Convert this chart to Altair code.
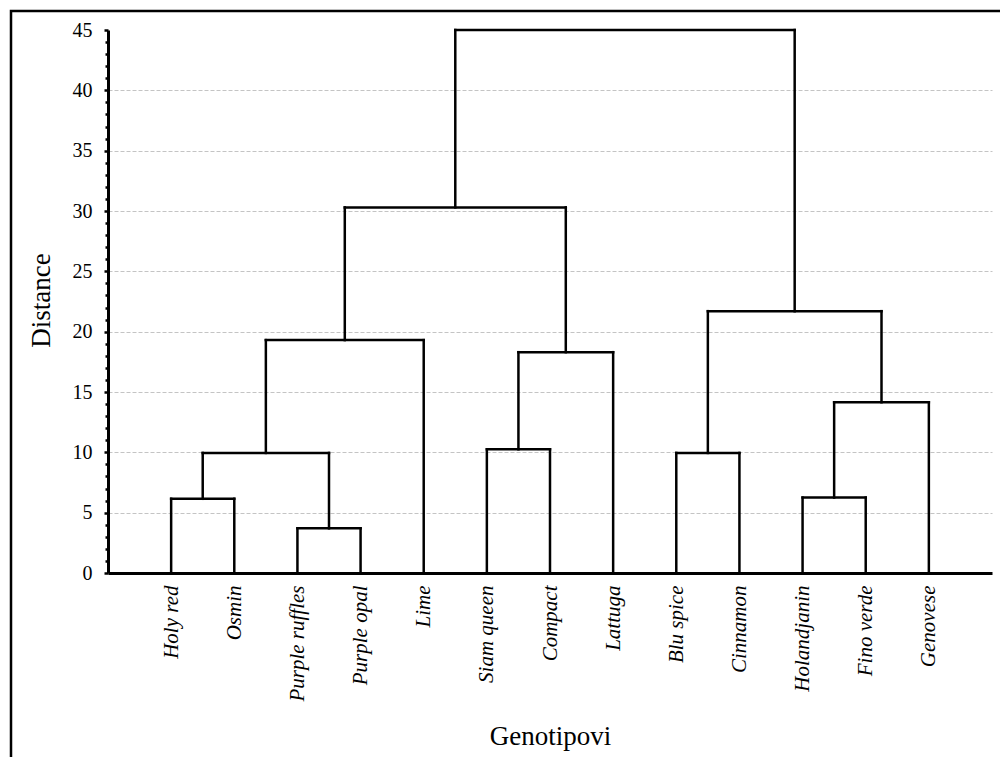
import altair as alt
import pandas as pd

# Leaves in dendrogram order
leaves = ["Holy red", "Osmin", "Purple ruffles", "Purple opal", "Lime",
          "Siam queen", "Compact", "Lattuga", "Blu spice", "Cinnamon",
          "Holandjanin", "Fino verde", "Genovese"]

# Linkage: node ids 0..12 are leaves, merges create nodes 13, 14, ...
merge_a = [2, 0, 10, 8, 14, 5, 15, 18, 17, 16, 21, 23]
merge_b = [3, 1, 11, 9, 13, 6, 12, 7, 4, 19, 20, 22]
merge_h = [3.7, 6.15, 6.25, 9.95, 9.95, 10.25, 14.15, 18.3, 19.3, 21.7, 30.3, 45.0]

y_ticks = list(range(0, 46))
x_ticks = list(range(1, len(leaves) + 1))

# dendrogram layout from the linkage
pos = {i: (i + 1.0, 0.0) for i in range(len(leaves))}
rows = []
for k, (a, b, h) in enumerate(zip(merge_a, merge_b, merge_h)):
    xa, ya = pos[a]
    xb, yb = pos[b]
    rows.append({"x": xa, "y": ya, "x2": xa, "y2": h})
    rows.append({"x": xb, "y": yb, "x2": xb, "y2": h})
    rows.append({"x": min(xa, xb), "y": h, "x2": max(xa, xb), "y2": h})
    pos[len(leaves) + k] = ((xa + xb) / 2.0, h)
segs = pd.DataFrame(rows)

FONT = "Liberation Serif"
label_arr = "[''," + ",".join("'" + s + "'" for s in leaves) + "]"

x_axis = alt.Axis(
    values=x_ticks,
    labelExpr=label_arr + "[datum.value]",
    labelAngle=270, labelAlign="right", labelBaseline="middle",
    labelFont=FONT, labelFontSize=21, labelFontStyle="italic", labelColor="black",
    labelPadding=12, labelOverlap=False, labelFlush=False, labelLimit=400,
    ticks=False, tickSize=0, grid=False,
    domainColor="black", domainWidth=3,
    title="Genotipovi", titleFont=FONT, titleFontSize=27, titleFontWeight="normal",
    titleColor="black", titleX=442, titleY=171, titleBaseline="alphabetic", titleAlign="center",
)

y_axis = alt.Axis(
    values=y_ticks,
    labelExpr="datum.value % 5 == 0 ? datum.label : ''",
    labelFont=FONT, labelFontSize=20, labelColor="black", labelPadding=12,
    labelOverlap=False, labelFlush=False,
    tickColor="black", tickWidth=2.5,
    tickSize={"condition": {"test": "datum.value % 5 == 0", "value": 4}, "value": 3},
    grid=True, gridColor="#c4c4c4", gridDash=[4, 2], gridWidth=1,
    gridOpacity={"condition": {"test": "datum.value % 5 == 0 && datum.value > 0 && datum.value < 45", "value": 1}, "value": 0},
    domainColor="black", domainWidth=3,
    title="Distance", titleFont=FONT, titleFontSize=27, titleFontWeight="normal",
    titleColor="black", titleX=-67, titleY=270, titleAngle=270, titleBaseline="middle", titleAlign="center",
)

frame = alt.Chart(pd.DataFrame({"a": [0]})).mark_rect(
    fillOpacity=0, stroke="black", strokeWidth=2.5
).encode(
    x=alt.value(-97), y=alt.value(-19), x2=alt.value(1200), y2=alt.value(1000)
)

dendro = alt.Chart(segs).mark_rule(color="black", strokeWidth=2.5, strokeCap="square").encode(
    x=alt.X("x:Q", scale=alt.Scale(domain=[0, 14], nice=False, zero=False), axis=x_axis),
    x2="x2:Q",
    y=alt.Y("y:Q", scale=alt.Scale(domain=[0, 45], nice=False), axis=y_axis),
    y2="y2:Q",
)

chart = alt.layer(frame, dendro).properties(
    width=884, height=543,
    autosize=alt.AutoSizeParams(type="none"),
    padding={"left": 108, "top": 30, "right": 8, "bottom": 184},
    background="white",
).configure_view(strokeWidth=0)

chart.save("out.html", embed_options={"renderer": "svg", "actions": False})
